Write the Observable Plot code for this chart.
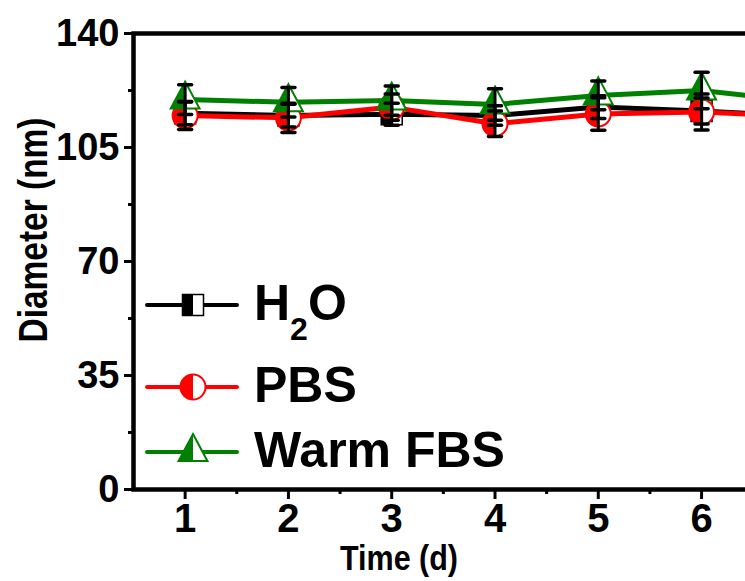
<!DOCTYPE html>
<html>
<head>
<meta charset="utf-8">
<script src="https://cdn.jsdelivr.net/npm/d3@7"></script>
<script src="https://cdn.jsdelivr.net/npm/@observablehq/plot@0.6"></script>
<style>
  html, body { margin: 0; padding: 0; background: white; overflow: hidden; }
  #wrap { position: relative; width: 745px; height: 581px; overflow: hidden; background: white; }
  #wrap svg { max-width: none !important; }
  #wrap svg.main { width: 866px !important; height: 581px !important; }
  #wrap svg.overlay { position: absolute; left: 0; top: 0; pointer-events: none; }
</style>
</head>
<body>
<div id="wrap"></div>
<script>
// ---- data ----
const days = [1, 2, 3, 4, 5, 6, 7];
const h2oMean = [115.5, 114.8, 115.2, 114.8, 117.4, 116.2, 114.6];
const h2oErr  = [3.5, 3.5, 3.4, 3.0, 3.5, 4.0, 3.5];
const pbsMean = [114.8, 114.1, 117.4, 112.3, 115.3, 115.9, 114.4];
const pbsErr  = [4.3, 4.5, 4.0, 3.9, 5.0, 5.5, 4.0];
const fbsMean = [119.7, 118.9, 119.4, 118.2, 121.0, 122.5, 119.1];
const fbsErr  = [4.6, 4.5, 4.5, 4.8, 4.4, 5.6, 4.5];
const seriesNames = ["H2O", "PBS", "Warm FBS"];
const seriesColors = ["#000000", "#ff0000", "#008000"];
const yTicks = [0, 35, 70, 105, 140];
const yMinor = [17.5, 52.5, 87.5, 122.5];
const xTicks = [1, 2, 3, 4, 5, 6];
const xMinor = [1.5, 2.5, 3.5, 4.5, 5.5, 6.5];

const means = [h2oMean, pbsMean, fbsMean];
const errs = [h2oErr, pbsErr, fbsErr];
const rows = [];
seriesNames.forEach((s, k) => days.forEach((d, i) => rows.push({
  series: s, day: d, mean: means[k][i], lo: means[k][i] - errs[k][i], hi: means[k][i] + errs[k][i]
})));

// ---- custom half-filled symbols ----
const R = s => Math.sqrt(s / Math.PI);
const fullSquare = {draw(c, s) { const r = R(s); c.moveTo(-r, -r); c.lineTo(r, -r); c.lineTo(r, r); c.lineTo(-r, r); c.closePath(); }};
const halfSquare = {draw(c, s) { const r = R(s); c.moveTo(-r, -r); c.lineTo(0, -r); c.lineTo(0, r); c.lineTo(-r, r); c.closePath(); }};
const fullCircle = {draw(c, s) { const r = R(s); c.moveTo(r, 0); c.arc(0, 0, r, 0, 2 * Math.PI); c.closePath(); }};
const halfCircle = {draw(c, s) { const r = R(s); c.moveTo(0, -r); c.arc(0, 0, r, -Math.PI / 2, Math.PI / 2, true); c.closePath(); }};
const fullTri = {draw(c, s) { const r = R(s); const w = r * 1.07; c.moveTo(0, -r * 4 / 3); c.lineTo(w, r * 2 / 3); c.lineTo(-w, r * 2 / 3); c.closePath(); }};
const halfTri = {draw(c, s) { const r = R(s); const w = r * 1.07; c.moveTo(0, -r * 4 / 3); c.lineTo(0, r * 2 / 3); c.lineTo(-w, r * 2 / 3); c.closePath(); }};
const capSym = {draw(c, s) { c.moveTo(-6.5, 0); c.lineTo(6.5, 0); }};

const symDefs = [
  {full: fullSquare, half: halfSquare, r: 10.5, sw: 1.5},
  {full: fullCircle, half: halfCircle, r: 12.5, sw: 2},
  {full: fullTri, half: halfTri, r: 13.5, sw: 2}
];

const seriesMarks = [];
seriesNames.forEach((s, k) => {
  const data = rows.filter(d => d.series === s);
  seriesMarks.push(Plot.line(data, {x: "day", y: "mean", stroke: seriesColors[k], strokeWidth: 5}));
  seriesMarks.push(Plot.dot(data, {x: "day", y: "mean", symbol: symDefs[k].full, r: symDefs[k].r, fill: "white", stroke: seriesColors[k], strokeWidth: symDefs[k].sw}));
  seriesMarks.push(Plot.dot(data, {x: "day", y: "mean", symbol: symDefs[k].half, r: symDefs[k].r, fill: seriesColors[k], stroke: "none"}));
});
const errMarks = [
  Plot.ruleX(rows, {x: "day", y1: "lo", y2: "hi", stroke: "black", strokeWidth: 3}),
  Plot.dot(rows, {x: "day", y: "lo", symbol: capSym, r: 1, stroke: "black", strokeWidth: 3.5, strokeLinecap: "round", fill: "none"}),
  Plot.dot(rows, {x: "day", y: "hi", symbol: capSym, r: 1, stroke: "black", strokeWidth: 3.5, strokeLinecap: "round", fill: "none"})
];

const chart = Plot.plot({
  width: 866, height: 581,
  marginLeft: 133, marginRight: 10, marginTop: 33, marginBottom: 92,
  x: {domain: [0.5, 7.5]},
  y: {domain: [0, 140]},
  style: {fontFamily: "'Liberation Sans', Arial, sans-serif", fontWeight: "bold", background: "white", color: "black", overflow: "visible"},
  marks: [
    Plot.axisY({ticks: yTicks, tickSize: 9, tickPadding: 5, strokeWidth: 3, fontSize: 38, label: null, tickFormat: d3.format("d")}),
    Plot.axisY({ticks: yMinor, tickSize: 5, text: null, strokeWidth: 3, label: null}),
    Plot.axisX({ticks: xTicks, tickSize: 10, tickPadding: 4, strokeWidth: 3, fontSize: 40, label: null, tickFormat: d3.format("d")}),
    Plot.axisX({ticks: xMinor, tickSize: 5, text: null, strokeWidth: 3, label: null}),
    ...seriesMarks,
    ...errMarks,
    Plot.frame({stroke: "black", strokeWidth: 4.5})
  ]
});
chart.classList.add("main");
const wrap = document.getElementById("wrap");
wrap.appendChild(chart);

// ---- legend & axis titles overlay ----
const ov = d3.select(wrap).append("svg").attr("class", "overlay")
  .attr("width", 745).attr("height", 581)
  .style("font-family", "'Liberation Sans', Arial, sans-serif").style("font-weight", "bold");

const legRows = [{y: 305, tb: 320}, {y: 387, tb: 402}, {y: 452, tb: 467}];
seriesNames.forEach((s, k) => {
  const g = ov.append("g");
  const y = legRows[k].y;
  g.append("line").attr("x1", 147).attr("x2", 237).attr("y1", y).attr("y2", y)
    .attr("stroke", seriesColors[k]).attr("stroke-width", 4).attr("stroke-linecap", "round");
  const sd = symDefs[k];
  const p1 = d3.path(); sd.full.draw(p1, sd.r * sd.r * Math.PI);
  const p2 = d3.path(); sd.half.draw(p2, sd.r * sd.r * Math.PI);
  g.append("path").attr("d", p1.toString()).attr("transform", `translate(193,${y})`)
    .attr("fill", "white").attr("stroke", seriesColors[k]).attr("stroke-width", sd.sw);
  g.append("path").attr("d", p2.toString()).attr("transform", `translate(193,${y})`)
    .attr("fill", seriesColors[k]);
  const t = g.append("text").attr("x", 254).attr("y", legRows[k].tb).attr("font-size", 50).attr("fill", "black");
  if (s === "H2O") {
    t.append("tspan").text("H");
    t.append("tspan").attr("dy", 20).attr("font-size", 32).text("2");
    t.append("tspan").attr("dy", -20).text("O");
  } else {
    t.text(s);
  }
});

ov.append("text").attr("x", 399).attr("y", 570).attr("text-anchor", "middle")
  .attr("font-size", 35).attr("textLength", 118).attr("lengthAdjust", "spacingAndGlyphs").text("Time (d)");
ov.append("text").attr("transform", "translate(47,230) rotate(-90)").attr("text-anchor", "middle")
  .attr("font-size", 40).attr("textLength", 225).attr("lengthAdjust", "spacingAndGlyphs").text("Diameter (nm)");
</script>
</body>
</html>
